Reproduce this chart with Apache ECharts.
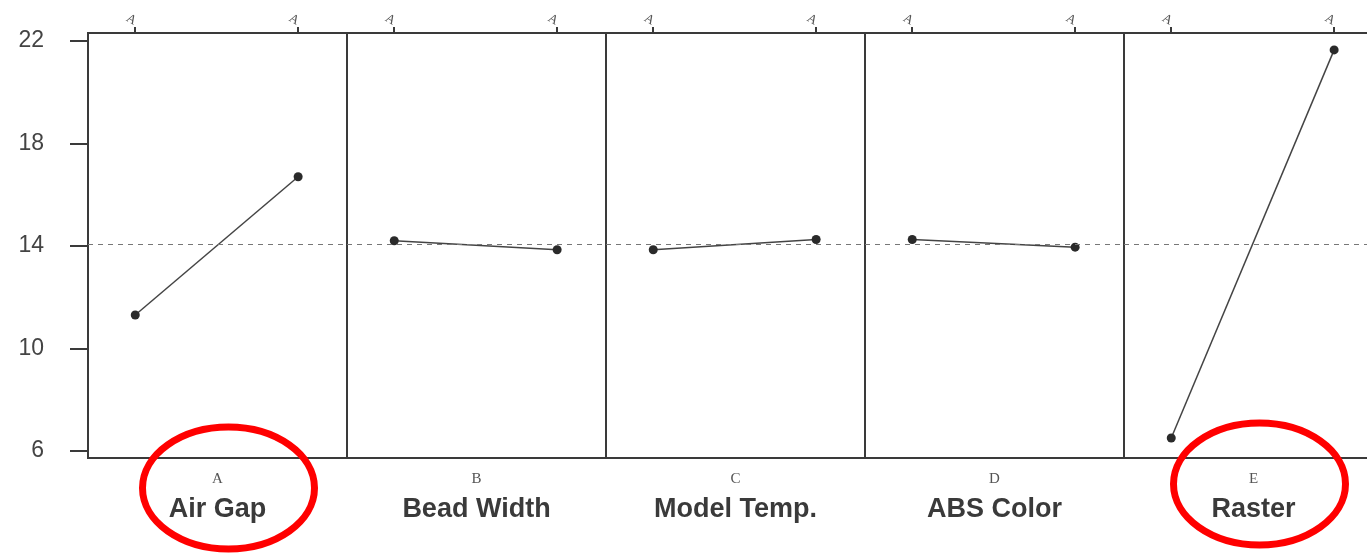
<!DOCTYPE html>
<html>
<head>
<meta charset="utf-8">
<script src="https://cdn.jsdelivr.net/npm/echarts@6/dist/echarts.min.js"></script>
<style>
  html, body { margin: 0; padding: 0; background: #fff; }
  #chart { width: 1367px; height: 556px; }
</style>
</head>
<body>
<div id="chart"></div>
<script>
// Main effects of five process factors on the response
const factorLetters = ['A', 'B', 'C', 'D', 'E'];
const factorNames = ['Air Gap', 'Bead Width', 'Model Temp.', 'ABS Color', 'Raster'];
const levels = [1, 2];
const levelTickText = ['A', 'A'];
const meanLow = [11.3, 14.2, 13.85, 14.25, 6.5];
const meanHigh = [16.7, 13.85, 14.25, 13.95, 21.65];
const grandMean = 14.05;
const yTicks = [6, 10, 14, 18, 22];
const highlighted = ['A', 'E'];

const panelLeft = 88, panelWidth = 259, panelTop = 33, panelHeight = 425;
const yMin = 5.72, yMax = 22.31;
const frameColor = '#3a3a3a';

const grids = [], xAxes = [], yAxes = [], series = [];
factorLetters.forEach((letter, i) => {
  grids.push({
    left: panelLeft + panelWidth * i, top: panelTop,
    width: panelWidth, height: panelHeight,
    outerBoundsMode: 'none', containLabel: false,
    show: true, borderColor: frameColor, borderWidth: 2, backgroundColor: 'transparent'
  });
  // top axis: factor levels
  xAxes.push({
    type: 'value', gridIndex: i, position: 'top', min: 0.71, max: 2.30,
    axisLine: { show: false },
    splitLine: { show: false },
    axisTick: { show: true, customValues: levels, length: 6, lineStyle: { color: frameColor, width: 2 } },
    axisLabel: {
      show: true, customValues: levels, rotate: 30, margin: 11,
      formatter: v => levelTickText[levels.indexOf(v)] || '',
      color: '#555', fontSize: 13, fontFamily: 'Liberation Serif'
    }
  });
  // bottom axis: factor name
  xAxes.push({
    type: 'value', gridIndex: i, position: 'bottom', min: 0.71, max: 2.30,
    axisLine: { show: false }, axisTick: { show: false }, axisLabel: { show: false },
    splitLine: { show: false },
    name: '{l|' + letter + '}\n{n|' + factorNames[i] + '}',
    nameLocation: 'middle', nameGap: 6,
    nameTextStyle: {
      rich: {
        l: { fontSize: 15, fontFamily: 'Liberation Serif', color: '#555', lineHeight: 30, align: 'center' },
        n: { fontSize: 27, fontWeight: 'bold', fontFamily: 'Liberation Sans Narrow, Liberation Sans', color: '#3a3a3a', lineHeight: 32, align: 'center' }
      }
    }
  });
  yAxes.push({
    type: 'value', gridIndex: i, min: yMin, max: yMax,
    show: i === 0,
    axisLine: { show: i === 0, lineStyle: { color: frameColor, width: 2 } },
    axisTick: { show: i === 0, customValues: yTicks, length: 18, lineStyle: { color: frameColor, width: 2 } },
    axisLabel: { show: i === 0, customValues: yTicks, margin: 44, color: '#444', fontSize: 23, fontFamily: 'Liberation Sans' },
    splitLine: { show: false }
  });
  series.push({
    type: 'line', xAxisIndex: i * 2, yAxisIndex: i,
    data: [[levels[0], meanLow[i]], [levels[1], meanHigh[i]]],
    symbol: 'circle', symbolSize: 9,
    itemStyle: { color: '#2a2a2a' },
    lineStyle: { color: '#444', width: 1.5 },
    z: 3,
    markLine: {
      silent: true, symbol: 'none', label: { show: false },
      lineStyle: { color: '#777', type: [5, 5], width: 1 },
      data: [{ yAxis: grandMean }]
    }
  });
});

// red rings around the highlighted factors
const ringOffsets = { A: [11, 488], E: [6, 484] };
const ringGraphics = highlighted.map(letter => {
  const i = factorLetters.indexOf(letter);
  const cx = panelLeft + panelWidth * i + panelWidth / 2 + ringOffsets[letter][0];
  return {
    type: 'ellipse', z: 100,
    shape: { cx: cx, cy: ringOffsets[letter][1], rx: 86, ry: 61 },
    style: { fill: 'none', stroke: '#ff0000', lineWidth: 7 }
  };
});

const chart = echarts.init(document.getElementById('chart'), null, { renderer: 'canvas' });
chart.setOption({
  backgroundColor: '#ffffff',
  animation: false,
  grid: grids,
  xAxis: xAxes,
  yAxis: yAxes,
  series: series,
  graphic: ringGraphics
});
</script>
</body>
</html>
